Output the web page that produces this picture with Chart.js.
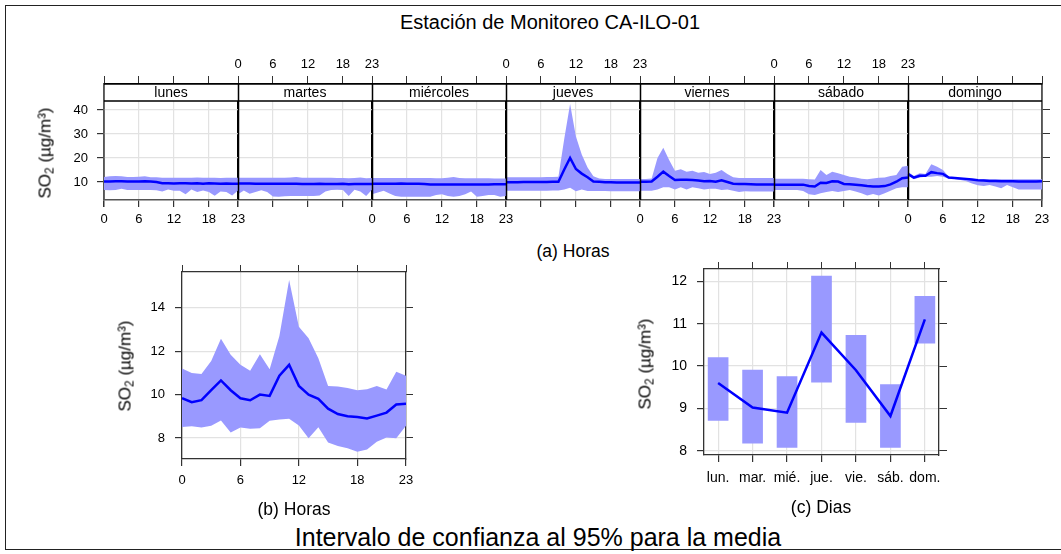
<!DOCTYPE html>
<html>
<head>
<meta charset="utf-8">
<script src="https://cdn.jsdelivr.net/npm/chart.js@4.4.1/dist/chart.umd.min.js"></script>
<style>
  body { margin: 0; background: #fff; font-family: "Liberation Sans", Arial, sans-serif; }
  #page { position: relative; width: 1061px; height: 554px; overflow: hidden; }
  canvas { position: absolute; }
  .txt { position: absolute; transform: translate(-50%, -50%); white-space: nowrap; color: #000; line-height: 1; }
  .ytitle { position: absolute; transform: translate(-50%, -50%) rotate(-90deg); white-space: nowrap; font-size: 17px; line-height: 1; color: #000; }
  .ytitle sub { font-size: 70%; vertical-align: -0.25em; line-height: 0; }
  #frame { position: absolute; left: 5px; top: 5px; width: 1070px; height: 543px; border: 1.5px solid #222; }
</style>
</head>
<body>
<div id="page">
  <div id="frame"></div>
  <div class="txt" style="left:550px; top:22px; font-size:20px;">Estación de Monitoreo CA-ILO-01</div>
  <canvas id="weekChart" width="1007" height="200" style="left:54px; top:40px;"></canvas>
  <div class="ytitle" style="left:45px; top:153px;">SO<sub>2</sub> (µg/m³)</div>
  <div class="txt" style="left:573px; top:252px; font-size:17.5px;">(a) Horas</div>

  <canvas id="hourChart" width="300" height="260" style="left:130px; top:240px;"></canvas>
  <div class="ytitle" style="left:125px; top:366px;">SO<sub>2</sub> (µg/m³)</div>
  <div class="txt" style="left:294px; top:510px; font-size:17.5px;">(b) Horas</div>

  <canvas id="dayChart" width="310" height="260" style="left:650px; top:240px;"></canvas>
  <div class="ytitle" style="left:645px; top:364px;">SO<sub>2</sub> (µg/m³)</div>
  <div class="txt" style="left:821px; top:508px; font-size:17.5px;">(c) Dias</div>

  <div class="txt" style="left:538px; top:537px; font-size:25px;">Intervalo de confianza al 95% para la media</div>
</div>
<script>
// ---- data ----
const DAYS = ['lunes', 'martes', 'miércoles', 'jueves', 'viernes', 'sábado', 'domingo'];
const DAY_ABBR = ['lun.', 'mar.', 'mié.', 'jue.', 'vie.', 'sáb.', 'dom.'];
const HOURS = [0, 1, 2, 3, 4, 5, 6, 7, 8, 9, 10, 11, 12, 13, 14, 15, 16, 17, 18, 19, 20, 21, 22, 23];
const HOUR_TICKS = [0, 6, 12, 18, 23];

// (a) hour of week: mean and 95% limits per day
const lunesMean = [10.2, 10.2, 10.3, 10.3, 10.2, 10.2, 10.2, 10.3, 10.2, 10.0, 9.5, 9.5, 9.4, 9.5, 9.5, 9.4, 9.5, 9.3, 9.5, 9.4, 9.3, 9.4, 9.3, 9.3];
const lunesLow  = [6.7, 6.6, 6.7, 7.2, 6.7, 6.7, 6.7, 6.7, 6.7, 6.6, 6.0, 6.9, 6.4, 6.4, 4.9, 6.9, 5.8, 6.5, 5.8, 4.3, 6.0, 5.8, 4.4, 6.5];
const lunesUpp  = [12.1, 12.4, 12.5, 12.4, 12.1, 12.1, 12.2, 12.4, 12.0, 12.0, 11.8, 11.8, 11.8, 11.8, 11.8, 11.8, 11.9, 11.8, 11.8, 11.8, 11.7, 11.8, 11.8, 11.8];

const martesMean = [9.4, 9.4, 9.4, 9.3, 9.3, 9.3, 9.3, 9.3, 9.3, 9.3, 9.3, 9.2, 9.2, 9.2, 9.3, 9.2, 9.2, 9.2, 9.3, 9.1, 9.2, 9.2, 9.2, 9.2];
const martesLow  = [4.9, 6.5, 5.1, 5.8, 6.6, 5.8, 4.0, 3.9, 4.1, 4.2, 4.2, 4.2, 4.2, 4.2, 4.4, 6.0, 6.7, 6.8, 6.7, 4.2, 6.8, 6.0, 4.2, 6.8];
const martesUpp  = [11.8, 11.8, 11.8, 11.8, 11.8, 11.8, 11.8, 11.8, 11.8, 11.9, 12.1, 11.8, 11.8, 11.8, 11.8, 11.8, 11.8, 11.7, 11.7, 11.6, 11.7, 11.9, 11.6, 11.7];

const miercolesMean = [9.3, 9.3, 9.3, 9.3, 9.3, 9.4, 9.3, 9.3, 9.3, 9.2, 9.0, 9.0, 9.0, 9.0, 9.0, 9.0, 9.0, 9.0, 9.0, 9.0, 9.0, 9.1, 9.1, 9.1];
const miercolesLow  = [4.9, 5.6, 6.4, 5.2, 4.2, 3.9, 3.9, 3.9, 3.9, 3.9, 3.9, 4.6, 4.9, 4.2, 3.9, 4.2, 4.9, 6.0, 3.9, 4.2, 4.6, 4.6, 3.9, 4.2];
const miercolesUpp  = [11.7, 11.7, 11.7, 11.7, 11.7, 11.7, 11.7, 11.7, 11.7, 11.7, 11.7, 11.6, 11.6, 11.8, 12.1, 11.7, 11.6, 11.6, 11.6, 11.6, 11.6, 11.5, 11.5, 11.5];

const juevesMean = [9.9, 9.9, 9.9, 10.0, 10.0, 10.0, 10.0, 10.0, 10.1, 10.1, 15.2, 20.0, 15.4, 13.5, 12.0, 10.2, 10.1, 9.9, 9.9, 9.8, 9.8, 9.8, 9.8, 9.8];
const juevesLow  = [6.4, 6.4, 6.4, 6.4, 6.4, 6.4, 6.4, 6.4, 6.5, 6.5, 6.9, 7.6, 6.1, 6.9, 6.3, 6.2, 6.2, 6.2, 6.1, 6.1, 6.1, 6.1, 6.1, 6.1];
const juevesUpp  = [12.0, 12.0, 12.0, 12.0, 12.0, 12.0, 12.0, 12.1, 12.1, 12.2, 28.0, 42.5, 29.0, 21.5, 16.0, 12.4, 11.5, 11.3, 11.3, 11.3, 11.3, 11.3, 11.3, 11.3];

const viernesMean = [10.1, 10.1, 10.2, 12.2, 14.3, 12.5, 10.8, 10.9, 10.9, 10.8, 10.6, 10.3, 10.4, 10.1, 10.7, 10.0, 9.3, 9.2, 9.2, 9.1, 9.0, 9.0, 9.0, 9.0];
const viernesLow  = [6.4, 6.4, 6.4, 6.9, 7.8, 7.8, 6.9, 7.8, 6.9, 7.8, 7.4, 6.9, 7.2, 7.2, 6.7, 6.9, 6.4, 5.8, 6.1, 6.0, 6.0, 6.0, 6.0, 6.0];
const viernesUpp  = [11.3, 11.3, 11.5, 20.0, 24.3, 19.2, 14.7, 15.3, 14.3, 14.7, 13.9, 14.2, 13.3, 13.9, 15.0, 13.3, 12.0, 11.7, 11.7, 11.7, 11.7, 11.7, 11.7, 11.7];

const sabadoMean = [8.9, 8.9, 8.9, 8.9, 8.9, 8.9, 8.3, 8.1, 9.7, 9.6, 10.3, 10.2, 9.2, 9.1, 8.9, 8.6, 8.3, 8.1, 8.1, 8.3, 9.0, 10.1, 11.6, 11.9];
const sabadoLow  = [6.7, 6.7, 6.7, 6.7, 6.7, 6.2, 4.9, 4.6, 5.3, 5.8, 6.3, 5.8, 6.3, 6.7, 6.0, 5.3, 4.4, 5.0, 4.4, 5.3, 6.4, 7.4, 7.8, 7.8];
const sabadoUpp  = [11.4, 11.4, 11.4, 11.4, 11.4, 11.4, 11.1, 11.0, 15.0, 12.9, 14.3, 13.6, 12.9, 12.2, 11.9, 11.4, 11.1, 11.5, 11.8, 11.9, 12.5, 12.9, 16.4, 16.8];

const domingoMean = [13.3, 11.8, 12.6, 12.6, 14.1, 13.7, 13.4, 11.9, 11.7, 11.5, 11.3, 11.0, 10.7, 10.6, 10.4, 10.4, 10.3, 10.3, 10.3, 10.2, 10.2, 10.2, 10.2, 10.3];
const domingoLow  = [12.9, 11.1, 11.9, 12.2, 12.2, 12.5, 12.2, 11.4, 11.3, 10.8, 10.3, 9.4, 8.6, 8.3, 8.8, 8.1, 7.4, 8.8, 7.8, 6.9, 6.9, 6.9, 6.9, 6.9];
const domingoUpp  = [14.3, 12.5, 13.6, 13.3, 17.4, 16.4, 15.0, 12.2, 11.8, 11.7, 11.4, 11.1, 11.0, 11.1, 11.1, 11.1, 11.1, 11.1, 11.1, 11.1, 11.1, 11.1, 11.1, 11.1];

// (b) hour of day
const hourMean = [9.83, 9.65, 9.74, 10.2, 10.65, 10.2, 9.83, 9.74, 10.0, 9.94, 10.87, 11.37, 10.4, 10.0, 9.8, 9.35, 9.1, 9.0, 8.97, 8.9, 9.03, 9.17, 9.54, 9.58];
const hourLow  = [8.51, 8.54, 8.48, 8.56, 8.8, 8.25, 8.48, 8.43, 8.45, 8.79, 8.85, 8.88, 8.57, 7.99, 8.49, 7.79, 7.63, 7.53, 7.36, 7.47, 7.83, 8.02, 7.99, 8.56];
const hourUpp  = [11.2, 11.0, 10.95, 11.55, 12.57, 11.83, 11.37, 11.1, 11.86, 11.17, 12.7, 15.28, 13.13, 12.6, 11.67, 10.4, 10.37, 10.3, 10.2, 10.25, 10.4, 10.23, 11.05, 10.87];

// (c) day of week
const dayMean = [9.6, 9.02, 8.9, 10.79, 9.9, 8.82, 11.1];
const dayLow  = [8.71, 8.17, 8.07, 9.61, 8.66, 8.07, 10.53];
const dayUpp  = [10.21, 9.91, 9.76, 12.13, 10.73, 9.57, 11.65];

// ---- styles ----
const LINE = '#0000ff';
const BAND = '#9999ff';
const GRID = '#e2e2e2';
const AXIS = '#333';
const FONT = '"Liberation Sans", Arial, sans-serif';

Chart.defaults.animation = false;
Chart.defaults.font.family = FONT;
Chart.defaults.color = '#000';
Chart.defaults.plugins.legend.display = false;
Chart.defaults.plugins.tooltip.enabled = false;

const fixedTicks = vals => scale => { scale.ticks = vals.map(v => ({ value: v })); };
const fixWidth = w => scale => { scale.width = w; };
const fixHeight = h => scale => { scale.height = h; };

// ---- (a) week panel ----
const weekMean = [lunesMean, martesMean, miercolesMean, juevesMean, viernesMean, sabadoMean, domingoMean];
const weekLow = [lunesLow, martesLow, miercolesLow, juevesLow, viernesLow, sabadoLow, domingoLow];
const weekUpp = [lunesUpp, martesUpp, miercolesUpp, juevesUpp, viernesUpp, sabadoUpp, domingoUpp];
const SPAN = HOURS[HOURS.length - 1];          // each day panel runs 0..23
const WEEK_END = DAYS.length * SPAN;

const weekTickVals = [];
DAYS.forEach((_, d) => HOUR_TICKS.slice(0, -1).forEach(h => weekTickVals.push(d * SPAN + h)));
weekTickVals.push(WEEK_END);

// alternate lattice labelling: even days below, odd days on top
function weekLabel(v, parity) {
  for (let d = parity; d < DAYS.length; d += 2) {
    if (v >= d * SPAN && v <= (d + 1) * SPAN) return String(v - d * SPAN);
  }
  return '';
}
const isBoundary = v => v % SPAN === 0;

const weekDatasets = [];
weekMean.forEach((mean, d) => {
  const pts = arr => HOURS.map(h => ({ x: d * SPAN + h, y: arr[h] }));
  weekDatasets.push({ data: pts(weekLow[d]), borderWidth: 0, pointRadius: 0, fill: false, order: 2 });
  weekDatasets.push({ data: pts(weekUpp[d]), borderWidth: 0, pointRadius: 0, fill: '-1', backgroundColor: BAND, order: 2 });
  weekDatasets.push({ data: pts(mean), borderColor: LINE, borderWidth: 2.5, pointRadius: 0, fill: false, order: 1 });
});

const stripPlugin = {
  id: 'dayStrip',
  afterDatasetsDraw(chart) {
    const { ctx, chartArea: a, scales: { x } } = chart;
    const h = 17;
    ctx.save();
    ctx.fillStyle = '#fff';
    ctx.fillRect(a.left + 1, a.top, a.right - a.left - 2, h);
    ctx.strokeStyle = '#000';
    ctx.lineWidth = 1.5;
    ctx.beginPath();
    ctx.moveTo(a.left, a.top); ctx.lineTo(a.right, a.top);
    ctx.moveTo(a.left, a.top + h); ctx.lineTo(a.right, a.top + h);
    for (let d = 1; d < DAYS.length; d++) {
      const px = Math.round(x.getPixelForValue(d * SPAN)) + 0.5;
      ctx.moveTo(px, a.top); ctx.lineTo(px, a.bottom);
    }
    ctx.stroke();
    ctx.fillStyle = '#000';
    ctx.font = '14px ' + FONT;
    ctx.textAlign = 'center';
    ctx.textBaseline = 'middle';
    DAYS.forEach((name, d) => {
      const cx = (x.getPixelForValue(d * SPAN) + x.getPixelForValue((d + 1) * SPAN)) / 2;
      ctx.fillText(name, cx, a.top + h / 2 + 1);
    });
    ctx.restore();
  }
};

const weekYTicks = [10, 20, 30, 40];
new Chart(document.getElementById('weekChart'), {
  type: 'line',
  data: { datasets: weekDatasets },
  plugins: [stripPlugin],
  options: {
    responsive: false,
    layout: { padding: 0 },
    elements: { line: { tension: 0 } },
    scales: {
      x: {
        type: 'linear', position: 'bottom', min: 0, max: WEEK_END,
        afterBuildTicks: fixedTicks(weekTickVals), afterFit: fixHeight(40),
        ticks: { autoSkip: false, maxRotation: 0, padding: 5, font: { size: 13 }, callback: v => weekLabel(v, 0) },
        grid: {
          color: c => isBoundary(c.tick.value) ? '#000' : GRID,
          lineWidth: c => isBoundary(c.tick.value) ? 1.5 : 1.2,
          tickColor: AXIS, tickLength: 7
        },
        border: { color: '#555', width: 1.5 }
      },
      x2: {
        type: 'linear', position: 'top', min: 0, max: WEEK_END,
        afterBuildTicks: fixedTicks(weekTickVals), afterFit: fixHeight(44),
        ticks: { autoSkip: false, maxRotation: 0, padding: 4, font: { size: 13 }, callback: v => weekLabel(v, 1) },
        grid: { drawOnChartArea: false, tickColor: AXIS, tickLength: 8 },
        border: { color: '#000', width: 1.5 }
      },
      y: {
        type: 'linear', position: 'left', min: 2.5, max: 50.83,
        afterBuildTicks: fixedTicks(weekYTicks), afterFit: fixWidth(50),
        ticks: { padding: 9, font: { size: 13 } },
        grid: { color: GRID, lineWidth: 1.2, tickColor: AXIS, tickLength: 7 },
        border: { color: '#555', width: 1.5 }
      },
      y2: {
        type: 'linear', position: 'right', min: 2.5, max: 50.83,
        afterBuildTicks: fixedTicks(weekYTicks), afterFit: fixWidth(19),
        ticks: { display: false },
        grid: { drawOnChartArea: false, tickColor: AXIS, tickLength: 8 },
        border: { color: '#555', width: 1.5 }
      }
    }
  }
});

// ---- (b) hour of day panel ----
const hourYTicks = [8, 10, 12, 14];
const hourPts = arr => HOURS.map(h => ({ x: h, y: arr[h] }));
new Chart(document.getElementById('hourChart'), {
  type: 'line',
  data: {
    datasets: [
      { data: hourPts(hourLow), borderWidth: 0, pointRadius: 0, fill: false, order: 2 },
      { data: hourPts(hourUpp), borderWidth: 0, pointRadius: 0, fill: '-1', backgroundColor: BAND, order: 2 },
      { data: hourPts(hourMean), borderColor: LINE, borderWidth: 2.5, pointRadius: 0, fill: false, order: 1 }
    ]
  },
  options: {
    responsive: false,
    layout: { padding: 0 },
    elements: { line: { tension: 0 } },
    scales: {
      x: {
        type: 'linear', position: 'bottom', min: 0, max: SPAN,
        afterBuildTicks: fixedTicks(HOUR_TICKS), afterFit: fixHeight(41),
        ticks: { autoSkip: false, maxRotation: 0, padding: 7, font: { size: 13 } },
        grid: { color: GRID, lineWidth: 1.2, tickColor: AXIS, tickLength: 7 },
        border: { color: AXIS, width: 1.3 }
      },
      x2: {
        type: 'linear', position: 'top', min: 0, max: SPAN,
        afterBuildTicks: fixedTicks(HOUR_TICKS), afterFit: fixHeight(32),
        ticks: { display: false },
        grid: { drawOnChartArea: false, tickColor: AXIS, tickLength: 7 },
        border: { color: AXIS, width: 1.3 }
      },
      y: {
        type: 'linear', position: 'left', min: 7.03, max: 15.65,
        afterBuildTicks: fixedTicks(hourYTicks), afterFit: fixWidth(52),
        ticks: { padding: 10, font: { size: 13 } },
        grid: { color: GRID, lineWidth: 1.2, tickColor: AXIS, tickLength: 7 },
        border: { color: AXIS, width: 1.3 }
      },
      y2: {
        type: 'linear', position: 'right', min: 7.03, max: 15.65,
        afterBuildTicks: fixedTicks(hourYTicks), afterFit: fixWidth(24),
        ticks: { display: false },
        grid: { drawOnChartArea: false, tickColor: AXIS, tickLength: 7 },
        border: { color: AXIS, width: 1.3 }
      }
    }
  }
});

// ---- (c) day of week panel ----
const dayPos = DAY_ABBR.map((_, i) => i + 1);
const dayYTicks = [8, 9, 10, 11, 12];
new Chart(document.getElementById('dayChart'), {
  type: 'bar',
  data: {
    datasets: [
      {
        type: 'line', data: dayPos.map((x, i) => ({ x, y: dayMean[i] })),
        borderColor: LINE, borderWidth: 2.5, pointRadius: 0, tension: 0, order: 1
      },
      {
        type: 'bar', data: dayPos.map((x, i) => ({ x, y: [dayLow[i], dayUpp[i]] })),
        backgroundColor: BAND, borderWidth: 0, barPercentage: 0.6, categoryPercentage: 1, order: 2
      }
    ]
  },
  options: {
    responsive: false,
    layout: { padding: 0 },
    scales: {
      x: {
        type: 'linear', position: 'bottom', min: 0.59, max: 7.41, offset: false,
        afterBuildTicks: fixedTicks(dayPos), afterFit: fixHeight(45),
        ticks: { autoSkip: false, maxRotation: 0, padding: 8, font: { size: 14 }, callback: v => DAY_ABBR[v - 1] },
        grid: { offset: false, color: GRID, lineWidth: 1.2, tickColor: AXIS, tickLength: 7 },
        border: { color: AXIS, width: 1.3 }
      },
      x2: {
        type: 'linear', position: 'top', min: 0.59, max: 7.41, offset: false,
        afterBuildTicks: fixedTicks(dayPos), afterFit: fixHeight(29),
        ticks: { display: false },
        grid: { offset: false, drawOnChartArea: false, tickColor: AXIS, tickLength: 7 },
        border: { color: AXIS, width: 1.3 }
      },
      y: {
        type: 'linear', position: 'left', min: 7.9, max: 12.29,
        afterBuildTicks: fixedTicks(dayYTicks), afterFit: fixWidth(54),
        ticks: { padding: 10, font: { size: 14 } },
        grid: { color: GRID, lineWidth: 1.2, tickColor: AXIS, tickLength: 7 },
        border: { color: AXIS, width: 1.3 }
      },
      y2: {
        type: 'linear', position: 'right', min: 7.9, max: 12.29,
        afterBuildTicks: fixedTicks(dayYTicks), afterFit: fixWidth(21),
        ticks: { display: false },
        grid: { drawOnChartArea: false, tickColor: AXIS, tickLength: 8 },
        border: { color: AXIS, width: 1.3 }
      }
    }
  }
});
</script>
</body>
</html>
